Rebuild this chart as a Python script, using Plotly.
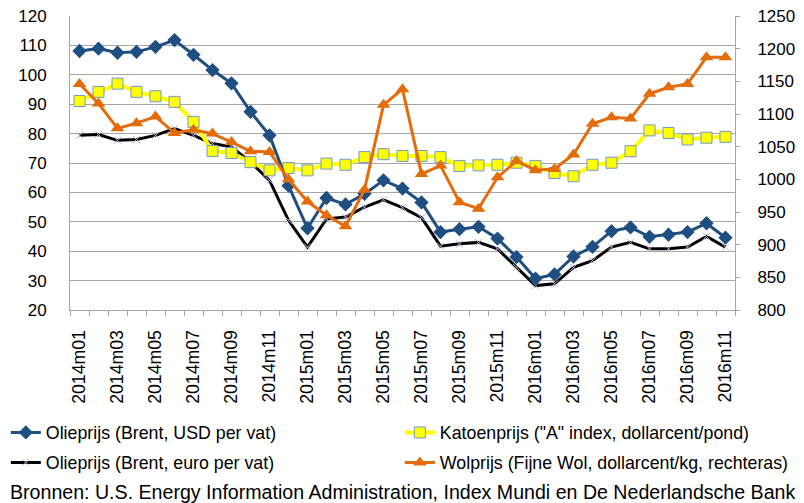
import plotly.graph_objects as go

months = ["2014m01","2014m02","2014m03","2014m04","2014m05","2014m06","2014m07","2014m08","2014m09","2014m10","2014m11","2014m12",
          "2015m01","2015m02","2015m03","2015m04","2015m05","2015m06","2015m07","2015m08","2015m09","2015m10","2015m11","2015m12",
          "2016m01","2016m02","2016m03","2016m04","2016m05","2016m06","2016m07","2016m08","2016m09","2016m10","2016m11"]

brent_usd = [108.1,108.9,107.5,107.8,109.5,111.8,106.8,101.6,97.1,87.4,79.4,62.3,
             47.8,58.1,55.9,59.5,64.1,61.3,56.6,46.5,47.5,48.3,44.3,38.0,
             30.7,32.1,38.2,41.5,46.8,48.1,44.9,45.6,46.5,49.5,44.6]
brent_eur = [79.4,79.7,77.7,78.0,79.4,81.7,79.4,76.6,75.5,70.3,64.1,50.5,
             41.4,51.0,51.6,55.0,57.5,54.8,51.4,41.7,42.5,43.0,40.8,34.5,
             28.3,28.9,34.5,36.8,41.4,43.0,40.8,40.8,41.4,45.0,41.4]
katoen = [91.1,94.2,97.0,94.2,92.7,90.8,84.0,74.1,73.4,70.3,67.5,68.3,
          67.5,69.8,69.4,72.0,73.0,72.4,72.4,72.0,69.0,69.2,69.4,70.1,
          69.0,66.6,65.5,69.4,70.1,74.0,81.1,80.2,78.0,78.6,78.9]
wol = [1146,1116,1078,1086,1096,1071,1076,1070,1057,1043,1042,1000,
       966,945,928,984,1114,1138,1008,1021,965,955,1003,1028,
       1014,1016,1038,1085,1095,1093,1131,1141,1146,1187,1187]

y_left_ticks = list(range(20, 121, 10))
y_right_ticks = list(range(800, 1251, 50))

names = ["Olieprijs (Brent, USD per vat)",
         "Katoenprijs (\"A\" index, dollarcent/pond)",
         "Olieprijs (Brent, euro per vat)",
         "Wolprijs (Fijne Wol, dollarcent/kg, rechteras)"]
source = "Bronnen: U.S. Energy Information Administration, Index Mundi en De Nederlandsche Bank"

x = list(range(len(months)))
FONT = "Liberation Sans, Arial, sans-serif"

fig = go.Figure()
fig.add_trace(go.Scatter(x=x, y=brent_eur, name=names[2], mode="lines+markers",
                         line=dict(color="#000000", width=3),
                         marker=dict(symbol="x-thin", size=7, line=dict(color="#b9b3dc", width=1)),
                         legend="legend3"))
fig.add_trace(go.Scatter(x=x, y=katoen, name=names[1], mode="lines+markers",
                         line=dict(color="#ffff00", width=4),
                         marker=dict(symbol="square", size=11, color="#ffff00", line=dict(color="#6f9bd0", width=1)),
                         legend="legend2"))
fig.add_trace(go.Scatter(x=x, y=brent_usd, name=names[0], mode="lines+markers",
                         line=dict(color="#1f4e80", width=3),
                         marker=dict(symbol="diamond", size=11, color="#1f4e80"),
                         legend="legend"))
fig.add_trace(go.Scatter(x=x, y=wol, name=names[3], mode="lines+markers", yaxis="y2",
                         line=dict(color="#e46c0a", width=3),
                         marker=dict(symbol="triangle-up", size=12, color="#e46c0a"),
                         legend="legend4"))

def leg(xp, yp):
    return dict(x=xp, y=yp, xanchor="left", yanchor="middle", itemwidth=30,
                font=dict(family=FONT, size=17.8), bgcolor="rgba(0,0,0,0)")

fig.update_layout(
    width=796, height=495,
    margin=dict(l=62, r=69, t=8, b=193, autoexpand=False),
    paper_bgcolor="white", plot_bgcolor="white",
    font=dict(family=FONT, size=17, color="#000000"),
    showlegend=True,
    legend=leg(-0.0965, -0.418),
    legend2=leg(0.496, -0.418),
    legend3=leg(-0.0965, -0.520),
    legend4=leg(0.496, -0.520),
    xaxis=dict(range=[-0.5, len(months) - 0.5], tickmode="array",
               tickvals=x[::2], ticktext=months[::2], tickangle=-90,
               tickfont=dict(family=FONT, size=17.7), ticklabelstandoff=12,
               showgrid=False, zeroline=False, showline=True, linecolor="#a6a6a6", linewidth=1,
               ticks="", minor=dict(tickmode="array", tickvals=[i - 0.5 for i in range(len(months) + 1)],
                                    ticks="outside", ticklen=5, tickcolor="#a6a6a6", showgrid=False)),
    yaxis=dict(range=[20, 120], tickmode="array", tickvals=y_left_ticks,
               showgrid=True, gridcolor="#a6a6a6", gridwidth=1, zeroline=False,
               showline=True, linecolor="#a6a6a6", linewidth=1, ticks="", ticklabelstandoff=19,
               ticklabeloverflow="allow"),
    yaxis2=dict(range=[800, 1250], tickmode="array", tickvals=y_right_ticks, overlaying="y", side="right",
                showgrid=False, zeroline=False, showline=True, linecolor="#a6a6a6", linewidth=1,
                ticks="outside", ticklen=4, tickcolor="#a6a6a6", ticklabelstandoff=14,
                ticklabeloverflow="allow"),
    annotations=[dict(text=source,
                      xref="paper", yref="paper", x=-0.0935, y=-0.619, xanchor="left", yanchor="middle",
                      showarrow=False, font=dict(family=FONT, size=19.6))],
)

fig.write_html("out.html")
